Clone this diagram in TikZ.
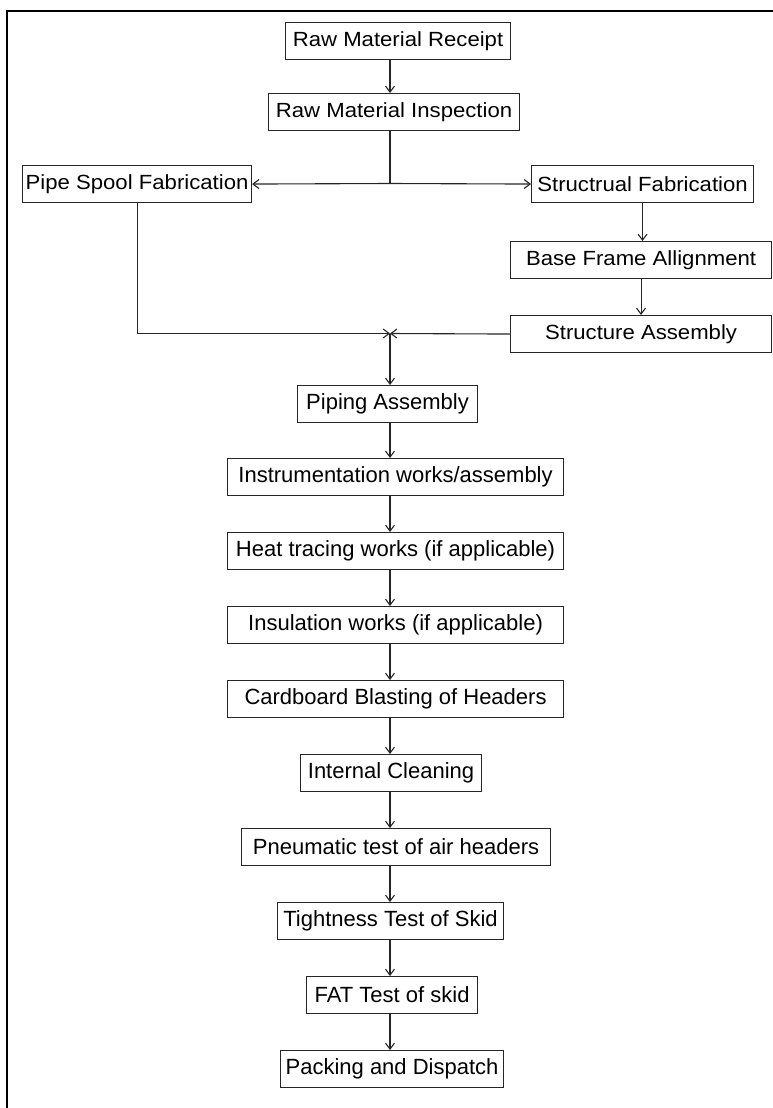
\documentclass[tikz,border=0pt]{standalone}
\usepackage{fontspec}
\setmainfont{Liberation Sans}
\newfontfamily\wideface[FakeStretch=1.08]{Liberation Sans}
\usetikzlibrary{arrows.meta}
\begin{document}
\begin{tikzpicture}[x=1pt,y=-1pt,
  box/.style={draw=black!85, line width=1.1pt, inner sep=0pt, anchor=north west,
    minimum height=37pt, font=\fontsize{22}{24}\selectfont},
  topbox/.style={box, font=\wideface\fontsize{20.5}{24}\selectfont},
  link/.style={draw=black!85, line width=1.1pt},
  arr/.style={link, -{Straight Barb[length=6pt,width=9pt]}}]
\useasboundingbox (0,0) rectangle (773,1108);
\fill[white] (0,0) rectangle (773,1108);
\draw[line width=2.5pt] (773,11) -- (7,11) -- (7,1108);

\node[topbox, minimum width=225pt] (r1) at (285,22) {Raw Material Receipt};
\node[topbox, minimum width=251pt] (r2) at (268,93) {Raw Material Inspection};
\node[topbox, minimum width=229pt] (ps) at (22,165) {Pipe Spool Fabrication};
\node[topbox, minimum width=222pt] (sf) at (531,165) {Structrual Fabrication};
\node[topbox, minimum width=261pt] (bf) at (510,241) {Base Frame Allignment};
\node[topbox, minimum width=261pt] (sa) at (510,315) {Structure Assembly};
\node[box, minimum width=180pt] (pa) at (297,385) {Piping Assembly};
\node[box, minimum width=336pt] (iw) at (227,458) {Instrumentation works/assembly};
\node[box, minimum width=336pt] (ht) at (227,532) {Heat tracing works (if applicable)};
\node[box, minimum width=336pt] (iu) at (227,606) {Insulation works (if applicable)};
\node[box, minimum width=336pt] (cb) at (227,680) {Cardboard Blasting of Headers};
\node[box, minimum width=181pt] (ic) at (300,754) {Internal Cleaning};
\node[box, minimum width=309pt] (pn) at (241,828) {Pneumatic test of air headers};
\node[box, minimum width=226pt] (tt) at (277,902) {Tightness Test of Skid};
\node[box, minimum width=171pt] (ft) at (306,976) {FAT Test of skid};
\node[box, minimum width=223pt] (pd) at (280,1050) {Packing and Dispatch};

\coordinate (col) at (390,0);
\coordinate (split) at (390,183.5);
\coordinate (merge) at (390,333.5);

\draw[arr] (r1.south -| col) -- (r2.north -| col);
\draw[link] (r2.south -| col) -- (split);
\draw[arr] (split) -- (ps.east);
\draw[arr] (split) -- (sf.west);
\draw[arr] (sf.south) -- (sf.south |- bf.north);
\draw[arr] (bf.south) -- (bf.south |- sa.north);
\draw[arr] (ps.south) |- (merge);
\draw[arr] (sa.west) -- (merge);
\draw[arr] (merge) -- (pa.north -| merge);
\foreach \a/\b in {pa/iw, iw/ht, ht/iu, iu/cb, cb/ic, ic/pn, pn/tt, tt/ft, ft/pd}
  \draw[arr] (\a.south -| col) -- (\b.north -| col);
\end{tikzpicture}
\end{document}
